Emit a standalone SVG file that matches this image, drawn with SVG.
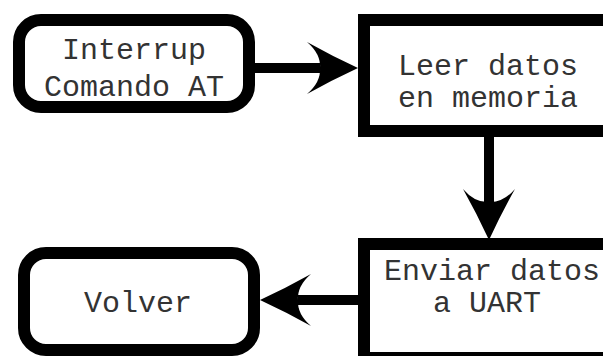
<svg xmlns="http://www.w3.org/2000/svg" width="603" height="356" viewBox="0 0 603 356">
  <style>
    .box { fill: #ffffff; stroke: #000000; stroke-width: 12; }
    .lbl { font-family: "Liberation Mono", "Courier New", monospace; font-size: 30px; fill: #333333; text-anchor: middle; }
    .conn { stroke: #000000; stroke-width: 10; fill: none; }
  </style>
  <defs>
    <marker id="arr" viewBox="-53 -28 55 56" markerWidth="55" markerHeight="56" refX="-38" refY="0" markerUnits="userSpaceOnUse" orient="auto">
      <path d="M0,0 Q-26,-12 -51,-26 Q-37,-14 -38,0 Q-37,14 -51,26 Q-26,12 0,0 Z" fill="#000000"/>
    </marker>
  </defs>
  <rect width="603" height="356" fill="#ffffff"/>
  <g id="connectors">
    <line class="conn" x1="254" y1="68" x2="320" y2="68" marker-end="url(#arr)"/>
    <line class="conn" x1="489" y1="136" x2="489" y2="202" marker-end="url(#arr)"/>
    <line class="conn" x1="360" y1="300" x2="298" y2="300" marker-end="url(#arr)"/>
  </g>
  <g id="node-interrup">
    <rect class="box" x="19" y="20" width="230" height="87" rx="22" ry="22"/>
    <text class="lbl" x="134" y="59">Interrup</text>
    <text class="lbl" x="134" y="96">Comando AT</text>
  </g>
  <g id="node-leer">
    <rect class="box" x="364" y="20" width="260" height="111"/>
    <text class="lbl" x="488" y="75">Leer datos</text>
    <text class="lbl" x="488" y="107">en memoria</text>
  </g>
  <g id="node-enviar">
    <rect class="box" x="364" y="244" width="260" height="114"/>
    <text class="lbl" x="492" y="280">Enviar datos</text>
    <text class="lbl" x="487" y="312">a UART</text>
  </g>
  <g id="node-volver">
    <rect class="box" x="24" y="253" width="230" height="97" rx="22" ry="22"/>
    <text class="lbl" x="138" y="312">Volver</text>
  </g>
</svg>
